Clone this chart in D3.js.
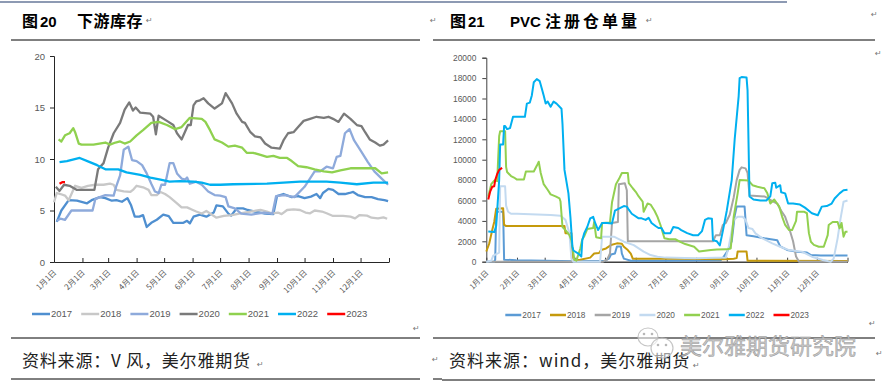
<!DOCTYPE html>
<html>
<head>
<meta charset="utf-8">
<script src="https://cdn.jsdelivr.net/npm/d3@7"></script>
<style>
    body { margin: 0; background: #fff; }
    svg  { display: block; }
</style>
</head>
<body>
<svg id="page" width="884" height="385"></svg>
<script>
(function () {'use strict';

// ---- data: [day of year, value] ----
var years       = ['2017', '2018', '2019', '2020', '2021', '2022', '2023'];
var monthLabels = ['1月1日', '2月1日', '3月1日', '4月1日', '5月1日', '6月1日',
                   '7月1日', '8月1日', '9月1日', '10月1日', '11月1日', '12月1日'];
var stockTicks   = [0, 5, 10, 15, 20];
var receiptTicks = [0, 2000, 4000, 6000, 8000, 10000, 12000, 14000, 16000, 18000, 20000];

// 图20 下游库存
var stock2017 = [[3,3.9],[8,5.0],[16,6.0],[25,5.95],[36,5.7],[41,6.0],[50,6.3],[56,6.2],[63,5.95],[68,6.0],[74,5.85],[80,6.2],[84,5.5],[88,4.4],[93,4.4],[97,4.55],[101,3.4],[106,3.8],[112,4.1],[119,4.6],[125,4.45],[130,3.8],[141,3.8],[145,4.0],[148,3.75],[152,4.4],[159,4.6],[166,4.4],[174,4.8],[177,5.5],[184,5.4],[190,4.7],[193,4.5],[199,5.2],[206,5.2],[211,5.05],[219,4.9],[230,4.7],[239,4.65],[243,6.4],[250,6.6],[259,6.3],[266,6.4],[273,6.2],[280,6.35],[286,6.6],[290,6.2],[293,6.7],[299,7.1],[304,7.0],[310,6.6],[317,6.6],[322,6.7],[326,6.8],[331,6.5],[339,6.3],[346,6.3],[353,6.1],[360,6.0],[364,5.9]];
var stock2018 = [[0,5.8],[3,6.7],[7,6.6],[12,6.45],[16,6.0],[23,7.4],[30,7.2],[37,7.4],[45,7.5],[54,7.5],[61,7.6],[65,7.5],[68,7.0],[76,6.85],[83,6.8],[86,7.0],[90,7.4],[97,7.25],[103,7.0],[106,6.5],[112,6.5],[116,6.8],[121,6.6],[126,6.3],[134,5.7],[139,5.3],[145,5.3],[150,5.1],[155,4.9],[161,4.7],[166,4.95],[177,4.3],[185,4.47],[194,4.56],[203,4.73],[214,4.9],[225,5.05],[232,4.9],[237,4.73],[244,4.8],[248,4.65],[254,5.05],[261,5.11],[268,5.05],[274,4.8],[279,4.73],[284,5.0],[292,4.9],[297,4.73],[304,4.47],[315,4.47],[323,4.4],[328,4.24],[333,4.56],[341,4.5],[346,4.3],[353,4.24],[359,4.33],[363,4.2]];
var stock2019 = [[3,4.0],[7,4.2],[12,4.1],[19,5.0],[27,5.0],[42,5.0],[45,6.1],[50,6.3],[56,6.5],[65,6.45],[68,7.4],[72,8.4],[76,10.9],[81,11.2],[85,9.9],[90,9.8],[96,9.4],[101,8.6],[106,7.6],[110,6.85],[114,6.7],[117,7.5],[121,7.5],[126,9.6],[130,9.6],[134,8.6],[139,8.1],[143,8.0],[145,8.2],[148,7.6],[155,7.8],[161,7.5],[168,6.85],[175,6.5],[181,6.45],[187,6.3],[190,5.4],[197,5.2],[204,4.7],[215,4.6],[229,4.8],[238,4.7],[242,6.4],[251,6.5],[262,6.3],[273,7.3],[284,8.8],[290,8.8],[297,9.25],[304,9.1],[308,10.2],[312,10.3],[317,12.5],[322,12.9],[327,11.8],[335,10.7],[342,9.7],[349,8.8],[357,8.1],[364,7.5]];
var stock2020 = [[2,7.3],[6,6.9],[11,7.5],[17,7.4],[25,7.0],[37,7.0],[44,7.0],[48,9.0],[54,9.6],[59,11.1],[65,12.5],[72,13.5],[77,14.8],[82,15.5],[86,14.7],[89,15.0],[94,14.5],[105,14.4],[108,14.1],[111,12.4],[114,14.2],[123,13.7],[130,13.3],[134,12.5],[139,11.9],[143,12.7],[146,13.3],[149,13.3],[152,15.2],[155,15.6],[159,15.7],[163,15.9],[168,15.4],[175,14.9],[183,15.4],[187,16.4],[194,15.4],[199,14.4],[205,13.6],[208,13.5],[214,12.6],[219,12.2],[225,12.1],[230,11.5],[237,11.1],[246,11.0],[250,11.8],[255,12.5],[261,12.6],[266,13.1],[272,13.7],[279,13.9],[286,14.1],[294,14.0],[299,14.1],[304,13.9],[310,13.6],[316,14.4],[323,13.9],[330,13.3],[335,13.2],[339,12.6],[344,11.9],[350,11.6],[355,11.3],[359,11.4],[364,11.8]];
var stock2021 = [[5,11.9],[8,11.7],[12,12.3],[17,12.5],[21,13.0],[23,12.6],[27,11.5],[30,11.4],[43,11.4],[56,11.6],[61,11.4],[67,11.6],[72,11.7],[77,11.5],[83,11.7],[90,12.3],[97,12.8],[106,13.5],[114,13.6],[123,13.3],[132,12.9],[139,13.1],[148,14.0],[161,13.9],[165,13.6],[170,12.8],[175,11.9],[183,11.6],[190,11.2],[197,11.3],[205,11.1],[210,10.6],[217,10.6],[225,10.4],[232,10.2],[239,10.3],[246,10.1],[254,10.1],[259,9.8],[266,9.3],[275,9.2],[284,9.0],[294,8.8],[303,8.7],[312,8.9],[323,9.1],[333,9.1],[350,9.1],[357,8.6],[364,8.7]];
var stock2022 = [[6,9.7],[14,9.8],[28,10.1],[39,9.7],[47,9.4],[56,9.0],[70,9.0],[79,8.7],[94,8.45],[105,8.2],[116,8.0],[126,7.8],[137,7.85],[152,7.8],[161,7.7],[170,7.5],[181,7.5],[195,7.55],[232,7.6],[268,7.8],[297,7.8],[312,7.7],[330,7.55],[348,7.7],[364,7.7]];
var stock2023 = [[6,7.6],[9,7.75],[12,7.75]];

// 图21 PVC 注册仓单量
var receipt2017 = [[0,0],[8,0],[9,200],[10,4700],[11,4900],[17,4900],[18,200],[30,150],[60,100],[90,50],[120,100],[124,300],[126,700],[130,800],[132,1500],[136,1500],[137,800],[139,300],[146,100],[180,100],[237,150],[240,500],[244,1100],[248,2000],[251,4500],[253,5400],[261,5400],[263,2600],[270,2500],[281,2300],[294,2100],[297,1500],[304,1150],[314,980],[324,900],[328,650],[338,600],[365,600]];
var receipt2018 = [[0,1000],[3,1800],[6,3100],[8,3900],[10,5200],[17,5250],[18,3600],[20,3500],[79,3500],[80,2800],[86,2800],[87,100],[95,200],[105,400],[109,800],[114,850],[116,1150],[121,1300],[126,1630],[132,1800],[137,1750],[139,1470],[143,1140],[146,800],[148,300],[200,300],[240,250],[250,300],[253,350],[254,1000],[263,1000],[264,100],[365,80]];
var receipt2019 = [[0,0],[118,0],[122,200],[125,800],[127,3800],[133,3900],[134,7600],[140,7700],[142,7000],[143,2000],[229,2000],[232,2600],[236,2600],[239,3600],[242,3800],[246,4600],[250,6300],[253,8000],[256,9000],[258,9250],[262,9150],[264,8700],[266,6500],[281,6400],[285,6200],[288,6000],[294,5700],[298,5000],[302,4400],[306,3300],[310,2000],[313,500],[316,0],[365,0]];
var receipt2020 = [[0,0],[5,100],[7,600],[10,750],[13,900],[14,7400],[19,7400],[20,5500],[22,4900],[25,4700],[31,4700],[65,4580],[75,4500],[80,4100],[84,2800],[86,300],[88,0],[115,0],[117,2450],[129,2450],[139,1960],[149,1630],[159,980],[166,650],[173,490],[181,400],[211,330],[242,400],[245,1470],[250,4080],[254,4410],[259,4400],[262,4100],[265,3300],[269,3200],[272,2780],[279,2290],[289,1800],[297,1470],[306,1140],[319,980],[329,490],[340,160],[348,0],[351,300],[355,2290],[358,4250],[361,5880],[365,6000]];
var receipt2021 = [[2,6400],[5,7600],[8,7950],[11,7900],[13,12300],[14,12800],[19,12800],[20,9300],[21,8800],[25,8400],[28,8250],[31,8050],[38,8050],[40,8850],[48,8850],[51,9400],[53,9800],[55,8700],[58,7600],[62,7050],[65,6600],[70,6400],[74,6200],[75,5900],[77,3400],[80,3100],[84,2600],[86,2100],[89,200],[91,100],[92,400],[95,1300],[97,2200],[99,2500],[102,3200],[108,3300],[109,3900],[111,2400],[116,2300],[117,3800],[125,3850],[127,5800],[131,7600],[134,8100],[137,8700],[143,8700],[144,7700],[148,7200],[151,6850],[154,6400],[158,5900],[159,4900],[163,5700],[166,5600],[170,5000],[173,4400],[176,3600],[180,2300],[185,2200],[191,2200],[196,1950],[201,1730],[210,1470],[215,1000],[227,1140],[233,1200],[243,1210],[247,1300],[250,4400],[254,6700],[256,8000],[265,7950],[269,7500],[274,7350],[281,7200],[284,6700],[287,5700],[291,6100],[296,5400],[299,4400],[302,3600],[306,3100],[309,3100],[313,4000],[314,4900],[321,4900],[324,4750],[326,2800],[328,1950],[331,1650],[336,1470],[341,1470],[345,2600],[346,3600],[350,3900],[355,3900],[357,3270],[359,3800],[361,2450],[363,2940],[365,2940]];
var receipt2022 = [[2,2950],[8,2900],[10,3500],[13,8000],[14,11500],[17,11500],[18,13300],[19,13300],[21,13000],[24,13100],[27,14200],[39,14200],[41,15500],[44,15600],[46,16300],[48,17600],[51,17900],[54,17700],[56,17000],[58,16300],[60,15500],[62,15700],[65,15200],[68,15700],[71,15500],[76,15000],[77,13500],[79,9000],[83,6700],[85,4400],[87,1500],[88,1100],[93,800],[96,500],[97,2100],[99,2800],[102,3400],[105,4250],[108,4400],[110,3800],[113,3100],[117,3800],[122,3800],[127,3750],[130,5000],[134,5200],[139,5450],[142,5400],[144,5100],[147,4700],[154,4250],[157,4250],[161,4100],[164,4300],[167,3800],[171,3500],[174,3300],[177,3300],[180,2800],[186,2800],[189,3400],[194,3300],[197,3100],[203,2800],[209,2600],[214,2600],[218,3000],[221,4100],[224,4250],[228,4200],[229,2100],[233,2000],[236,1600],[239,3000],[243,5000],[248,8000],[251,12000],[255,16200],[256,18000],[258,18100],[263,18050],[264,16800],[266,6400],[270,6100],[277,6000],[283,6000],[287,6400],[289,7700],[292,7750],[293,7250],[297,7500],[298,6800],[302,6700],[305,5700],[310,5700],[317,5600],[322,5300],[329,4750],[335,4550],[339,5400],[344,5450],[349,5700],[352,6200],[357,6700],[361,7000],[365,7050]];
var receipt2023 = [[2,6100],[4,6900],[6,7350],[8,7400],[9,8000],[11,8600],[13,9000],[16,9200]];

var stockColors   = ['#4f8fd0', '#c8c8c8', '#8eaadb', '#7a7a7a', '#8fd14f', '#00b0f0', '#ff0000'];
var receiptColors = ['#5b9bd5', '#c59a0c', '#a5a5a5', '#c3daf0', '#92d050', '#00b0f0', '#ff0000'];

var svg = d3.select('#page');
var cjk = '"Noto Sans CJK SC", sans-serif';
var latin = '"Liberation Sans", Arial, sans-serif';

var yearStart = new Date(2021, 0, 1);
function dayDate(d) { return d3.timeDay.offset(yearStart, d); }

/*
 * PAGE DECORATION
 */
svg.append('line').attr('x1', 0).attr('x2', 787).attr('y1', 2).attr('y2', 2)
    .attr('stroke', '#8d9ab3').attr('stroke-width', 2);

function rule(x1, x2, y) {
    svg.append('line').attr('x1', x1).attr('x2', x2).attr('y1', y).attr('y2', y)
        .attr('stroke', '#000').attr('stroke-width', 1);
}
[40, 338, 379].forEach(function (y) { rule(11, 420, y); rule(433, 442, y); });
[40, 338, 380].forEach(function (y) { rule(442, 875, y); });

// title pieces: [offset, text, latin?, letter spacing]
function title(x, parts) {
    var t = svg.append('text').attr('y', 27).attr('font-weight', 'bold').attr('fill', '#000');
    parts.forEach(function (p) {
        t.append('tspan').attr('x', x + p[0]).attr('font-family', p[2] ? latin : cjk)
            .attr('font-size', p[2] ? 15 : 16)
            .attr('letter-spacing', p[3] || 0)
            .text(p[1]);
    });
}
title(22,  [[0, '图'], [18, '20', true], [55, '下游库存', false, 0.5]]);
title(450, [[0, '图'], [18, '21', true], [60, 'PVC', true], [95, '注册仓单量', false, 3]]);

svg.append('text').attr('x', 22).attr('y', 367).attr('font-family', cjk)
    .attr('font-size', 17).attr('letter-spacing', 0.8).attr('fill', '#222')
    .text('资料来源：V 风，美尔雅期货');
svg.append('text').attr('x', 449).attr('y', 367).attr('font-family', cjk)
    .attr('font-size', 17).attr('letter-spacing', 1).attr('fill', '#222')
    .text('资料来源：wind，美尔雅期货');

// paragraph marks
[[146, 23], [430, 23], [646, 23], [871, 17], [875, 56], [413, 331], [257, 367],
 [432, 362], [869, 326], [693, 368], [876, 356]].forEach(function (p) {
    svg.append('text').attr('x', p[0]).attr('y', p[1]).attr('font-family', 'DejaVu Sans')
        .attr('font-size', 8).attr('fill', '#777').text('↵');
});

/*
 * CHARTS
 */
function drawChart(cfg) {
    var x = d3.scaleTime().domain([yearStart, dayDate(365)]).range([cfg.left, cfg.right]);
    var y = d3.scaleLinear().domain([0, cfg.ticks[cfg.ticks.length - 1]]).range([cfg.bottom, cfg.top]);
    var g = svg.append('g');

    // y axis
    var ya = g.append('g')
        .attr('transform', 'translate(' + cfg.left + ',0)')
        .call(d3.axisLeft(y).tickValues(cfg.ticks).tickSize(4).tickPadding(cfg.yPad)
            .tickFormat(d3.format('d')));
    ya.select('.domain').attr('stroke', cfg.axisColor);
    ya.selectAll('line').attr('stroke', cfg.axisColor);
    ya.selectAll('text').attr('font-family', latin).attr('font-size', cfg.yFont).attr('fill', '#595959');

    // x axis, ticks pointing up
    var months = d3.timeMonth.range(yearStart, dayDate(366));
    var xa = g.append('g')
        .attr('transform', 'translate(0,' + cfg.bottom + ')')
        .call(d3.axisBottom(x).tickValues(months).tickSizeInner(-4).tickSizeOuter(0).tickFormat(''));
    xa.select('.domain').attr('stroke', cfg.axisColor).attr('stroke-width', cfg.xAxisWidth);
    xa.selectAll('line').attr('stroke', cfg.axisColor);

    g.selectAll('.month-label')
        .data(monthLabels)
        .enter().append('text')
            .attr('class', 'month-label')
            .attr('transform', function (d, i) {
                return 'translate(' + (x(months[i]) + 1) + ',' + (cfg.bottom + cfg.labelDrop) + ') rotate(-45)';
            })
            .attr('dy', '0.35em')
            .attr('text-anchor', 'end')
            .attr('font-family', cjk)
            .attr('font-size', cfg.xFont)
            .attr('fill', '#595959')
            .text(function (d) { return d; });

    var line = d3.line()
        .x(function (d) { return x(dayDate(d[0])); })
        .y(function (d) { return y(d[1]); });

    cfg.series.forEach(function (s, i) {
        g.append('path')
            .attr('d', line(s))
            .attr('fill', 'none')
            .attr('stroke', cfg.colors[i])
            .attr('stroke-width', cfg.lineWidth)
            .attr('stroke-linejoin', 'round');
    });

    // legend
    var lg = g.selectAll('.legend-item')
        .data(years)
        .enter().append('g')
            .attr('class', 'legend-item')
            .attr('transform', function (d, i) {
                return 'translate(' + (cfg.legendX + i * cfg.legendStep) + ',' + cfg.legendY + ')';
            });
    lg.append('line')
        .attr('x1', 0).attr('x2', cfg.legendLine)
        .attr('stroke', function (d, i) { return cfg.colors[i]; })
        .attr('stroke-width', 2.5);
    lg.append('text')
        .attr('x', cfg.legendLine + 1)
        .attr('dy', '0.35em')
        .attr('font-family', latin)
        .attr('font-size', cfg.legendFont)
        .attr('fill', '#595959')
        .text(function (d) { return d; });
}

drawChart({
    left: 54, right: 389, top: 56, bottom: 262,
    ticks: stockTicks, yPad: 5, yFont: 9.5, xFont: 8, labelDrop: 9,
    axisColor: '#262626', xAxisWidth: 1, lineWidth: 2.3,
    series: [stock2017, stock2018, stock2019, stock2020, stock2021, stock2022, stock2023],
    colors: stockColors,
    legendX: 32, legendY: 314, legendStep: 49.2, legendLine: 18, legendFont: 9.5
});

drawChart({
    left: 486.3, right: 847.5, top: 57.7, bottom: 261.7,
    ticks: receiptTicks, yPad: 6, yFont: 8.4, xFont: 7.5, labelDrop: 10,
    axisColor: '#404040', xAxisWidth: 1.5, lineWidth: 2,
    series: [receipt2017, receipt2018, receipt2019, receipt2020, receipt2021, receipt2022, receipt2023],
    colors: receiptColors,
    legendX: 505.3, legendY: 315, legendStep: 44.7, legendLine: 16, legendFont: 8.3
});

/*
 * WATERMARK
 */
var wm = svg.append('g').attr('opacity', 0.9);
wm.append('ellipse').attr('cx', 648).attr('cy', 337).attr('rx', 10).attr('ry', 9)
    .attr('fill', 'rgba(255,255,255,0.6)').attr('stroke', '#c0c0c0').attr('stroke-width', 1.2);
wm.append('ellipse').attr('cx', 662).attr('cy', 348).attr('rx', 11).attr('ry', 10)
    .attr('fill', 'rgba(255,255,255,0.6)').attr('stroke', '#c0c0c0').attr('stroke-width', 1.2);
[[644, 334], [652, 334], [658, 345], [666, 345]].forEach(function (p) {
    wm.append('circle').attr('cx', p[0]).attr('cy', p[1]).attr('r', 1.3).attr('fill', '#b0b0b0');
});
wm.append('text').attr('x', 680).attr('y', 354).attr('font-family', cjk)
    .attr('font-size', 22).attr('fill', '#c4c4c4').attr('stroke', '#8c8c8c').attr('stroke-width', 0.5)
    .text('美尔雅期货研究院');

})();
</script>
</body>
</html>
